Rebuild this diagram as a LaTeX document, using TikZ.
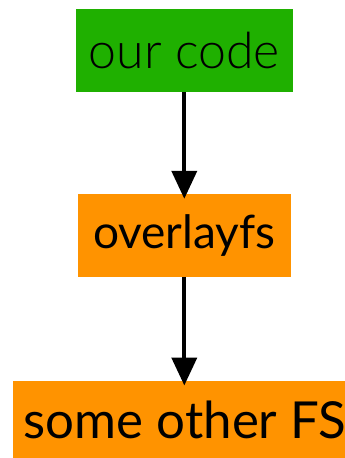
\documentclass[tikz,border=0pt]{standalone}
\usepackage{fontspec}
\setmainfont{Lato}
\newfontfamily\lightfont{Lato Light}
\usetikzlibrary{arrows.meta}
\definecolor{boxgreen}{HTML}{1FB000}
\definecolor{boxorange}{HTML}{FF9300}
\begin{document}
\begin{tikzpicture}[x=1pt,y=-1pt,
  boxnode/.style={inner sep=0pt,outer sep=0pt,text=black},
  conn/.style={line width=4pt,-{Triangle[width=25pt,length=28pt]},shorten >=-5pt}]
\useasboundingbox (0,0) rectangle (345,458);
\node[boxnode,fill=boxgreen,minimum width=217pt,minimum height=83pt,font=\lightfont\fontsize{50}{56}\selectfont] (code) at (184.3,50.5) {our code};
\node[boxnode,fill=boxorange,minimum width=213pt,minimum height=83pt,font=\fontsize{46}{52}\selectfont] (ovl) at (184.3,235.3) {overlayfs};
\node[boxnode,fill=boxorange,minimum width=344pt,minimum height=78pt,font=\fontsize{51}{57}\selectfont] (fs) at (185,419.5) {some other FS};
\draw[conn] (code.south) -- (ovl.north);
\draw[conn] (ovl.south) -- (ovl.south |- fs.north);
\end{tikzpicture}
\end{document}
